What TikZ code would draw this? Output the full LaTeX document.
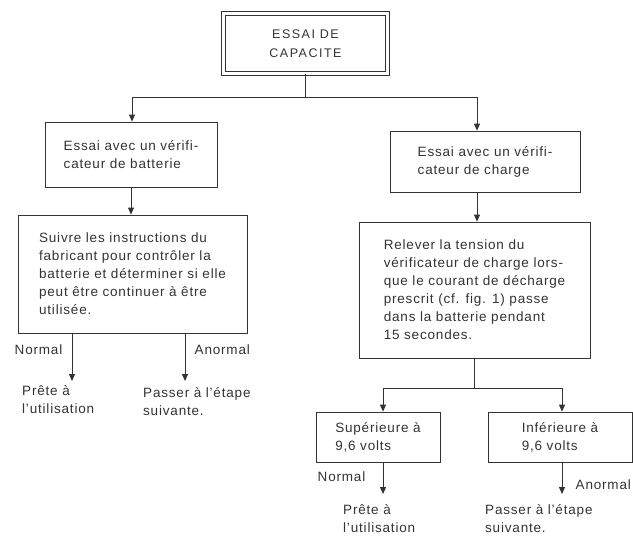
\documentclass[tikz,border=0pt]{standalone}
\usepackage{fontspec}
\setmainfont{Liberation Sans}[LetterSpace=6]
\usetikzlibrary{arrows.meta}
\tikzset{>={Triangle[length=7pt,width=6pt]}}

\begin{document}
\begin{tikzpicture}[x=1pt,y=-1pt,color=black!80,
    font=\fontsize{13.5}{18}\selectfont]
\useasboundingbox (0,0) rectangle (633,541);
\begin{scope}[every node/.style={draw,line width=0.8pt,align=left}]
\node[double,double distance=3.5pt,align=center,
      minimum width=164pt,minimum height=60pt,
      font=\fontsize{12.5}{19}\selectfont\addfontfeature{LetterSpace=12}]
      (cap) at (305.5,43.5) {ESSAI DE\\CAPACITE};
\node[minimum width=172pt,minimum height=65pt] (batt) at (131,154.5)
      {Essai avec un vérifi-\\cateur de batterie};
\node[minimum width=229pt,minimum height=118pt] (instr) at (132.5,274)
      {Suivre les instructions du\\fabricant pour contrôler la\\
       batterie et déterminer si elle\\peut être continuer à être\\utilisée.};
\node[minimum width=190pt,minimum height=61pt] (charge) at (485,161.5)
      {Essai avec un vérifi-\\cateur de charge};
\node[minimum width=231pt,minimum height=136pt] (tension) at (474.5,290)
      {Relever la tension du\\vérificateur de charge lors-\\
       que le courant de décharge\\prescrit (cf. fig. 1) passe\\
       dans la batterie pendant\\15 secondes.};
\node[minimum width=124pt,minimum height=50pt] (sup) at (378,437)
      {Supérieure à\\9,6 volts};
\node[minimum width=144pt,minimum height=50pt] (inf) at (560,437)
      {Inférieure à\\9,6 volts};
\end{scope}

% results under the boxes
\begin{scope}[every node/.style={align=left,anchor=north west,inner sep=0pt}]
\node (pret1) at (22,385) {Prête à\\l'utilisation};
\node (pass1) at (143,387) {Passer à l'étape\\suivante.};
\node (pret2) at (343,504) {Prête à\\l'utilisation};
\node (pass2) at (485,504) {Passer à l'étape\\suivante.};
\end{scope}

\coordinate (busL) at (132,97);
\coordinate (busR) at (477,97);
\coordinate (splitL) at (383,388);
\coordinate (splitR) at (562,388);
\coordinate (endN1) at (72,381);
\coordinate (endA1) at (185,381);
\coordinate (endN2) at (383,494);
\coordinate (endA2) at (562,494);

\begin{scope}[every edge/.style={draw,line width=0.8pt}]
    \path (cap) edge (cap |- busL);
    \path (busL) edge (busR);
    \path [->] (busL) edge (busL |- batt.north);
    \path [->] (busR) edge (busR |- charge.north);
    \path [->] (batt) edge (batt.south |- instr.north);
    \path [->] (charge.south -| busR) edge (busR |- tension.north);

    \path [->] (instr.south -| endN1) edge
        node[left=6pt,pos=0.35] (norm1) {Normal} (endN1);
    \path [->] (instr.south -| endA1) edge
        node[right=6pt,pos=0.35] (anorm1) {Anormal} (endA1);

    \path (tension) edge (tension.south |- splitL);
    \path (splitL) edge (splitR);
    \path [->] (splitL) edge (splitL |- sup.north);
    \path [->] (splitR) edge (splitR |- inf.north);

    \path [->] (sup.south -| endN2) edge
        node[left=14pt,pos=0.45] (norm2) {Normal} (endN2);
    \path [->] (inf.south -| endA2) edge
        node[right=10pt,pos=0.7] (anorm2) {Anormal} (endA2);
\end{scope}
\end{tikzpicture}
\end{document}
